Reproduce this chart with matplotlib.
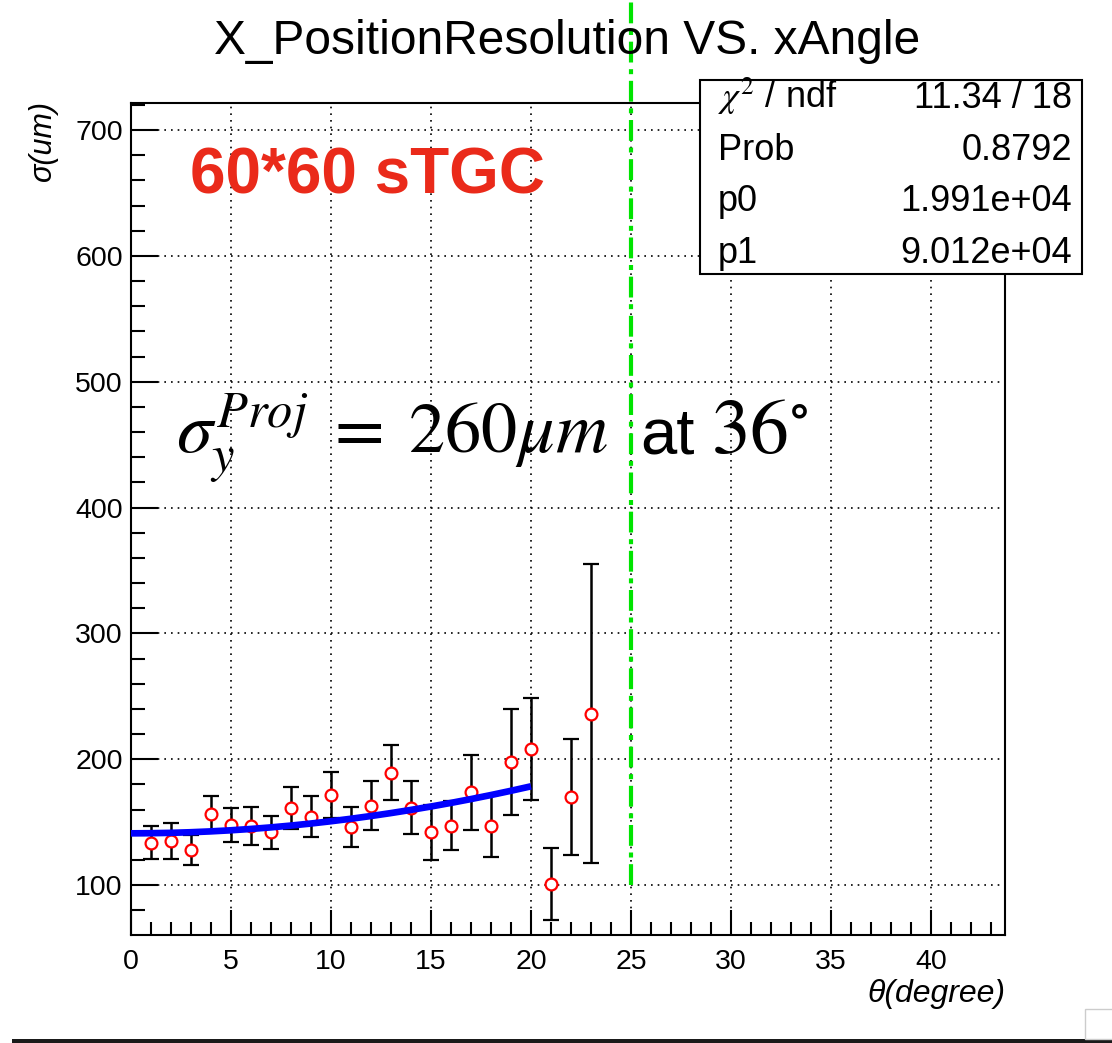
import matplotlib
matplotlib.use('Agg')
import matplotlib.pyplot as plt
import numpy as np
from matplotlib.patches import Rectangle
from matplotlib.ticker import MultipleLocator

# ---------------- data ----------------
angles = [1, 2, 3, 4, 5, 6, 7, 8, 9, 10, 11, 12, 13, 14, 15, 16, 17, 18, 19, 20, 21, 22, 23]
sigma = [133.6, 135.0, 128.0, 156.4, 147.7, 147.0, 141.8, 161.2, 154.3, 171.5, 146.1, 163.0,
         189.2, 161.4, 141.8, 147.0, 173.6, 147.0, 198.0, 208.1, 100.5, 170.1, 236.2]
sigma_err = [13.0, 14.0, 12.0, 14.0, 13.5, 15.0, 13.0, 16.5, 16.5, 18.5, 15.7, 19.5,
             21.7, 21.0, 21.5, 19.5, 30.0, 24.5, 42.0, 40.3, 28.6, 46.0, 119.0]
fit_p0 = 1.991e4
fit_p1 = 9.012e4
fit_range = [0, 20]
cut_angle = 25
cut_low = 100
stats_labels = [r"$\chi^{2}$ / ndf", "Prob", "p0", "p1"]
stats_values = ["11.34 / 18", "0.8792", "1.991e+04", "9.012e+04"]
x_ticks = [0, 5, 10, 15, 20, 25, 30, 35, 40]
y_ticks = [100, 200, 300, 400, 500, 600, 700]

# ---------------- style ----------------
plt.rcParams['font.family'] = ['Liberation Sans', 'DejaVu Sans']
plt.rcParams['mathtext.fontset'] = 'stix'

W, H = 1112, 1043
fig = plt.figure(figsize=(W / 100, H / 100), dpi=100)
fig.patch.set_facecolor('white')


def fx(px):
    return px / W


def fy(py):
    return 1 - py / H


ax = fig.add_axes([fx(131), fy(935), (1005 - 131) / W, (935 - 103) / H])
ax.set_xlim(0, 43.7)
ax.set_ylim(60.3, 721.5)

ax.set_xticks(x_ticks)
ax.set_yticks(y_ticks)
ax.xaxis.set_minor_locator(MultipleLocator(1))
ax.yaxis.set_minor_locator(MultipleLocator(20))
ax.tick_params(axis='x', which='major', direction='in', length=18, width=1.5,
               labelsize=20.5, pad=10)
ax.tick_params(axis='x', which='minor', direction='in', length=9.5, width=1.5)
ax.tick_params(axis='y', which='major', direction='in', length=19.5, width=1.5,
               labelsize=20.5, pad=6)
ax.tick_params(axis='y', which='minor', direction='in', length=10, width=1.5)
for s in ax.spines.values():
    s.set_linewidth(1.5)

ax.set_axisbelow(True)
ax.grid(True, which='major', color='black', linestyle=(0, (1, 3)), linewidth=1.2)

# data points
ax.errorbar(angles, sigma, yerr=sigma_err, fmt='o', mfc='white', mec='#ff0000', mew=1.6,
            ms=8.5, ecolor='black', elinewidth=1.8, capsize=5.5, capthick=1.8, zorder=3)

# fit curve
th = np.linspace(fit_range[0], fit_range[1], 200)
ax.plot(th, np.sqrt(fit_p0 + fit_p1 * np.tan(np.radians(th)) ** 2),
        color='#0000ff', lw=4.8, zorder=4, solid_capstyle='butt')

# green cut line (extends to figure top)
fig.canvas.draw()
top_val = ax.transData.inverted().transform(fig.transFigure.transform((0, 1)))[1]
ax.plot([cut_angle, cut_angle], [cut_low, top_val], color='#00e400', lw=3,
        linestyle=(0, (5, 1.6, 1.2, 1.6)), clip_on=False, zorder=20)

# title
fig.text(fx(567), fy(54), "X_PositionResolution VS. xAngle", ha='center',
         va='baseline', fontsize=34.5, zorder=1)

# axis labels
fig.text(fx(1005), fy(1002), "θ(degree)", ha='right', va='baseline', fontsize=23,
         style='italic')
fig.text(fx(43), fy(100), "σ(um)", ha='center', va='top', rotation=90, fontsize=22,
         style='italic')

# annotations
fig.text(fx(190), fy(194), "60*60 sTGC", color='#ea2a1a', fontsize=46,
         fontweight='bold', ha='left', va='baseline')
fig.text(fx(176), fy(453), r"$\sigma_{y}^{Proj}\;=\;260\mu m$", fontsize=52,
         ha='left', va='baseline')
fig.text(fx(640), fy(453), "at", fontsize=47, ha='left', va='baseline')
fig.text(fx(711), fy(453), r"$36^{\circ}$", fontsize=56, ha='left', va='baseline')

# stats box
fig.add_artist(Rectangle((fx(700), fy(274)), (1082 - 700) / W, (274 - 80) / H,
                         transform=fig.transFigure, facecolor='white',
                         edgecolor='black', lw=1.5, zorder=10))
row_base = [108, 160, 211, 263]
for lab, val, yb in zip(stats_labels, stats_values, row_base):
    fig.text(fx(718), fy(yb), lab, ha='left', va='baseline', fontsize=26, zorder=11)
    fig.text(fx(1072), fy(yb), val, ha='right', va='baseline', fontsize=26, zorder=11)

# bottom dark strip & resize handle
fig.add_artist(Rectangle((fx(12), 0), 1, 4 / H, transform=fig.transFigure,
                         facecolor='#1a1a1a', edgecolor='none', zorder=10))
fig.add_artist(Rectangle((fx(1085), fy(1039)), 30 / W, 30 / H, transform=fig.transFigure,
                         facecolor='white', edgecolor='#cccccc', lw=1, zorder=10))

fig.savefig('out.png', dpi=100)
